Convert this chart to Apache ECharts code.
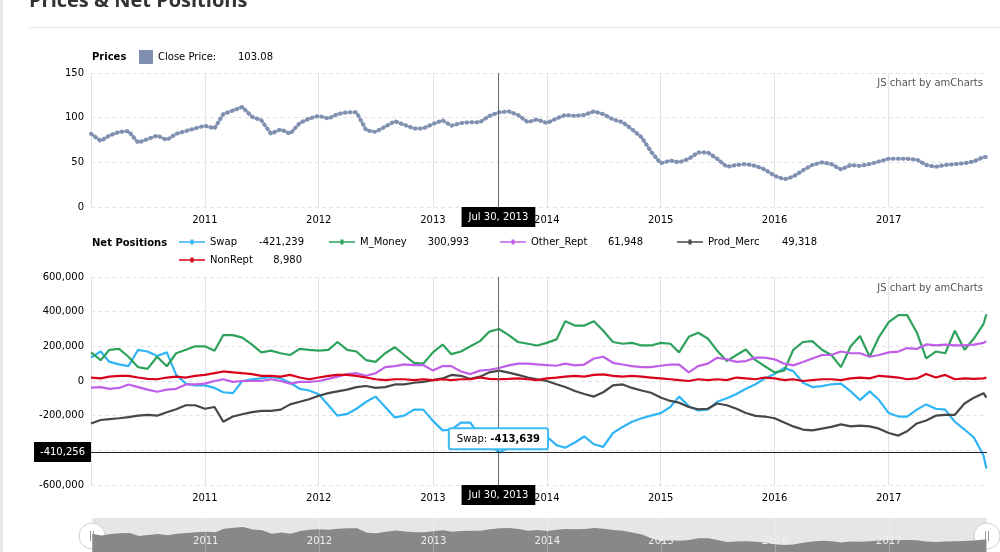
<!DOCTYPE html>
<html>
<head>
<meta charset="utf-8">
<script src="https://cdn.jsdelivr.net/npm/echarts@6/dist/echarts.min.js"></script>
<style>
html,body{margin:0;padding:0;background:#fff;}
#c{width:1000px;height:552px;}
</style>
</head>
<body>
<div id="c"></div>
<script>
// ---- Data (monthly samples, first of each month, plus last point) ----
const dates = [];
for (let y = 2010; y <= 2017; y++) {
  for (let m = 1; m <= 12; m++) {
    if (y === 2017 && m > 11) break;
    dates.push(y + '-' + String(m).padStart(2, '0') + '-01');
  }
}
dates.push('2017-11-10');

const closePrice = [
  82,74,80,84,85,72,76,80,75,82,85,88,
  91,88,104,108,112,101,97,82,87,82,94,99,
  102,99,104,106,106,86,84,90,96,92,88,88,
  93,97,91,94,95,95,102,106,107,103,95,98,
  94,99,103,102,103,107,104,98,95,87,78,62,
  49,52,50,54,61,61,54,45,47,48,46,42,
  35,31,34,41,47,50,48,42,47,46,48,51,
  54,54,54,53,47,45,47,48,49,51,56,
  56
];

const swap = [
  135000,170000,110000,96000,86000,180000,170000,144000,165000,35000,-15000,-25000,
  -25000,-40000,-65000,-70000,0,10000,15000,25000,15000,-10000,-45000,-55000,
  -77000,-140000,-200000,-190000,-160000,-120000,-90000,-150000,-210000,-200000,-165000,-165000,
  -230000,-285000,-280000,-240000,-240000,-320000,-370000,-412000,-385000,-375000,-360000,-330000,
  -320000,-370000,-385000,-355000,-320000,-365000,-380000,-300000,-265000,-235000,-215000,-200000,
  -185000,-150000,-90000,-145000,-170000,-165000,-120000,-100000,-75000,-45000,-19000,15000,
  40000,75000,57000,-10000,-35000,-30000,-19000,-15000,-60000,-110000,-60000,-110000,
  -185000,-205000,-205000,-165000,-135000,-160000,-165000,-235000,-280000,-326000,-430000,
  -505000
];

const mMoney = [
  165000,120000,180000,185000,140000,80000,70000,140000,85000,160000,180000,200000,
  200000,175000,265000,265000,250000,210000,165000,175000,160000,150000,185000,180000,
  175000,180000,225000,180000,170000,120000,110000,160000,195000,150000,105000,100000,
  165000,210000,155000,170000,200000,230000,285000,300000,265000,225000,215000,205000,
  220000,240000,345000,320000,320000,345000,290000,225000,215000,220000,205000,205000,
  220000,215000,165000,255000,278000,245000,175000,115000,150000,182000,120000,85000,
  50000,60000,180000,225000,230000,180000,150000,80000,200000,260000,140000,255000,
  340000,380000,380000,280000,130000,170000,160000,290000,180000,245000,330000,
  385000
];

const otherRept = [
  -38000,-35000,-45000,-40000,-20000,-35000,-50000,-62000,-50000,-45000,-20000,-19000,
  -15000,0,10000,-5000,0,0,0,10000,0,-15000,-5000,-5000,
  0,12000,25000,40000,45000,30000,45000,80000,86000,96000,92000,92000,
  60000,86000,86000,55000,40000,60000,65000,75000,90000,100000,100000,96000,
  92000,88000,100000,90000,95000,130000,140000,105000,95000,86000,80000,80000,
  88000,95000,95000,50000,86000,100000,134000,125000,110000,115000,135000,135000,
  125000,100000,90000,110000,130000,150000,150000,170000,160000,160000,140000,150000,
  165000,170000,190000,185000,211000,205000,210000,205000,205000,210000,220000,
  230000
];

const prodMerc = [
  -245000,-225000,-220000,-215000,-208000,-200000,-195000,-200000,-180000,-163000,-140000,-140000,
  -160000,-150000,-235000,-205000,-192000,-180000,-172000,-172000,-165000,-135000,-120000,-105000,
  -85000,-70000,-60000,-50000,-35000,-29000,-40000,-35000,-20000,-19000,-10000,-5000,
  5000,15000,35000,30000,12000,25000,50000,60000,48000,35000,20000,10000,
  0,-19000,-35000,-58000,-75000,-90000,-65000,-25000,-20000,-40000,-55000,-68000,
  -95000,-115000,-125000,-150000,-163000,-160000,-130000,-140000,-160000,-185000,-201000,-205000,
  -215000,-240000,-262000,-280000,-285000,-275000,-265000,-250000,-262000,-258000,-262000,-275000,
  -300000,-315000,-290000,-245000,-228000,-200000,-195000,-195000,-130000,-96000,-70000,
  -96000
];

const nonRept = [
  20000,15000,25000,30000,30000,20000,12000,10000,20000,25000,20000,30000,
  35000,45000,55000,50000,45000,40000,30000,30000,25000,35000,20000,10000,
  20000,30000,35000,35000,30000,20000,10000,5000,10000,10000,5000,10000,
  5000,10000,5000,10000,10000,20000,12000,10000,12000,15000,10000,5000,
  15000,20000,25000,30000,25000,35000,38000,30000,25000,30000,25000,20000,
  15000,10000,5000,0,10000,5000,10000,5000,20000,15000,10000,20000,
  15000,5000,10000,0,5000,10000,10000,5000,15000,20000,15000,30000,
  25000,20000,10000,15000,40000,20000,35000,10000,15000,12000,15000,
  20000
];

// Legend / cursor readouts shown in the reference
const cursorDate = '2013-07-30';
const cursorDateLabel = 'Jul 30, 2013';
const cursorYValue = -410256;
const tooltipSwap = -413639;
const legendValues = {
  'Close Price': '103.08',
  'Swap': '-421,239',
  'M_Money': '300,993',
  'Other_Rept': '61,948',
  'Prod_Merc': '49,318',
  'NonRept': '8,980'
};

const colors = {
  price: '#8090b0',
  Swap: '#2fb5f5',
  M_Money: '#2ea25c',
  Other_Rept: '#c05ee8',
  Prod_Merc: '#474747',
  NonRept: '#d9001b'
};

// ---- Helpers ----
function comma(n) {
  const s = Math.abs(Math.round(n)).toString().replace(/\B(?=(\d{3})+(?!\d))/g, ',');
  return (n < 0 ? '-' : '') + s;
}
const zip = arr => dates.map((d, i) => [d, arr[i]]);
const FONT = 'DejaVu Sans';
const DAY = 24 * 3600 * 1000;
const yearFmt = v => { const y = new Date(v).getFullYear(); return y <= 2010 ? '' : String(y); };

function timeAxis(gridIndex, extra) {
  return Object.assign({
    type: 'time',
    gridIndex: gridIndex,
    min: '2010-01-01',
    max: '2017-11-12',
    minInterval: 365 * DAY,
    maxInterval: 366 * DAY,
    axisLine: { show: false },
    axisTick: { show: false },
    axisLabel: {
      showMinLabel: false,
      showMaxLabel: false,
      fontFamily: FONT, fontSize: 10, color: '#000', margin: 8,
      formatter: yearFmt
    },
    splitLine: { show: true, showMinLine: false, showMaxLine: false, lineStyle: { color: '#e2e2e2', width: 1 } }
  }, extra || {});
}

const lineIcon = 'path://M0,2 L26,2 L26,3.6 L0,3.6 Z M11.5,0.3 L14.5,0.3 L14.5,5.3 L11.5,5.3 Z';

function legendFor(name, left, top, nameW, isLine) {
  return {
    data: [{ name: name, icon: isLine ? lineIcon : 'rect' }],
    left: left, top: top,
    orient: 'horizontal',
    itemWidth: isLine ? 26 : 14,
    itemHeight: isLine ? 5 : 14,
    selectedMode: false,
    padding: 0,
    formatter: n => '{n|' + (isLine ? n : n + ':') + '}{v|' + legendValues[n] + '}',
    textStyle: {
      fontFamily: FONT, fontSize: 10, color: '#000',
      rich: {
        n: { width: nameW, fontFamily: FONT, fontSize: 10, color: '#000' },
        v: { width: isLine ? 60 : 40, align: isLine ? 'right' : 'left', fontFamily: FONT, fontSize: 10, color: '#000' }
      }
    }
  };
}

function netLine(name, arr) {
  return {
    name: name, type: 'line', xAxisIndex: 1, yAxisIndex: 1,
    data: zip(arr),
    showSymbol: false, symbol: 'circle', symbolSize: 4,
    lineStyle: { width: 2.2, color: colors[name] },
    itemStyle: { color: colors[name] },
    emphasis: { disabled: true },
    z: 3
  };
}

const cursorLabel = {
  show: true, position: 'start', distance: 0,
  backgroundColor: '#000', color: '#fff', padding: [5, 7, 5, 7],
  fontFamily: FONT, fontSize: 10
};

const chart = echarts.init(document.getElementById('c'), null, { renderer: 'canvas' });

const swapSeries = netLine('Swap', swap);
swapSeries.markLine = {
  silent: true, symbol: ['none', 'none'], animation: false,
  data: [
    { xAxis: cursorDate, lineStyle: { color: '#666', width: 1, type: 'solid' },
      label: Object.assign({}, cursorLabel, { formatter: cursorDateLabel }) },
    { yAxis: cursorYValue, lineStyle: { color: '#222', width: 1, type: 'solid' },
      label: Object.assign({}, cursorLabel, { formatter: comma(cursorYValue), padding: [5, 6, 5, 6] }) }
  ]
};
swapSeries.markPoint = {
  silent: true, animation: false,
  symbol: 'circle', symbolSize: 1,
  itemStyle: { color: 'rgba(0,0,0,0)' },
  data: [{ coord: [cursorDate, tooltipSwap] }],
  label: {
    show: true, position: 'top', distance: 4,
    formatter: '{a|Swap: }{b|' + comma(tooltipSwap) + '}',
    backgroundColor: '#fff', borderColor: '#3cb9f0', borderWidth: 2, borderRadius: 1,
    padding: [5, 7, 4, 7],
    rich: {
      a: { fontFamily: FONT, fontSize: 10, color: '#000' },
      b: { fontFamily: FONT, fontSize: 10, color: '#000', fontWeight: 'bold' }
    }
  }
};

function handle(cx) {
  return {
    type: 'group', x: cx, y: 536, silent: true, z: 100,
    children: [
      { type: 'circle', shape: { cx: 0, cy: 0, r: 13 }, style: { fill: '#fff', stroke: '#d0d0d0', lineWidth: 1 } },
      { type: 'line', shape: { x1: -1.5, y1: -5, x2: -1.5, y2: 5 }, style: { stroke: '#999', lineWidth: 1 } },
      { type: 'line', shape: { x1: 1.5, y1: -5, x2: 1.5, y2: 5 }, style: { stroke: '#999', lineWidth: 1 } }
    ]
  };
}

const option = {
  backgroundColor: '#fff',
  animation: false,
  grid: [
    { left: 91, right: 13, top: 73, height: 134 },
    { left: 91, right: 13, top: 277, height: 208 },
    { left: 92, right: 13, top: 518, height: 38, show: true, backgroundColor: '#e6e6e6', borderWidth: 0 }
  ],
  xAxis: [
    timeAxis(0),
    timeAxis(1),
    timeAxis(2, {
      z: 10,
      axisLabel: {
        inside: true, showMinLabel: false, showMaxLabel: false,
        fontFamily: FONT, fontSize: 10, color: '#eeeeee', margin: 6,
        formatter: yearFmt
      },
      splitLine: { show: true, showMinLine: false, showMaxLine: false, lineStyle: { color: 'rgba(255,255,255,0.25)' } }
    })
  ],
  yAxis: [
    {
      type: 'value', gridIndex: 0, min: 0, max: 150, interval: 50,
      axisLine: { show: false }, axisTick: { show: false },
      axisLabel: { fontFamily: FONT, fontSize: 10, color: '#000', margin: 7 },
      splitLine: { lineStyle: { color: '#e4e4e4', type: [4, 3] } }
    },
    {
      type: 'value', gridIndex: 1, min: -600000, max: 600000, interval: 200000,
      axisLine: { show: false }, axisTick: { show: false },
      axisLabel: { fontFamily: FONT, fontSize: 10, color: '#000', margin: 7, formatter: v => comma(v) },
      splitLine: { lineStyle: { color: '#e4e4e4', type: [4, 3] } }
    },
    { type: 'value', gridIndex: 2, min: 0, max: 152, show: false }
  ],
  legend: [
    legendFor('Close Price', 139, 50, 80, false),
    legendFor('Swap', 179, 237, 34, true),
    legendFor('M_Money', 329, 237, 49, true),
    legendFor('Other_Rept', 500, 237, 52, true),
    legendFor('Prod_Merc', 677, 237, 49, true),
    legendFor('NonRept', 179, 255, 32, true)
  ],
  series: [
    {
      name: 'Close Price', type: 'line', xAxisIndex: 0, yAxisIndex: 0,
      data: zip(closePrice),
      showSymbol: false,
      lineStyle: { color: colors.price, width: 4, type: [1, 4], cap: 'round' },
      itemStyle: { color: colors.price },
      emphasis: { disabled: true },
      markLine: {
        silent: true, symbol: ['none', 'none'], animation: false,
        data: [{ xAxis: cursorDate, lineStyle: { color: '#666', width: 1, type: 'solid' },
          label: Object.assign({}, cursorLabel, { formatter: cursorDateLabel }) }]
      }
    },
    swapSeries,
    netLine('M_Money', mMoney),
    netLine('Other_Rept', otherRept),
    netLine('Prod_Merc', prodMerc),
    netLine('NonRept', nonRept),
    {
      name: 'scroll', type: 'line', xAxisIndex: 2, yAxisIndex: 2,
      data: zip(closePrice), showSymbol: false,
      lineStyle: { width: 0 },
      areaStyle: { color: '#888888', opacity: 1 },
      emphasis: { disabled: true }, silent: true, z: 1
    }
  ],
  graphic: [
    { type: 'rect', left: 0, top: 0, shape: { width: 3, height: 552 }, style: { fill: '#e8e8e8' }, silent: true },
    { type: 'text', x: 29, y: 11, style: { text: 'Prices & Net Positions', font: 'bold 20px "Open Sans"', fill: '#333', verticalAlign: 'bottom' }, silent: true },
    { type: 'line', shape: { x1: 29, y1: 27.5, x2: 1000, y2: 27.5 }, style: { stroke: '#e8e8e8', lineWidth: 1 }, silent: true },
    { type: 'text', x: 92, y: 57, style: { text: 'Prices', font: 'bold 10px "DejaVu Sans"', fill: '#000', verticalAlign: 'middle' }, silent: true },
    { type: 'text', x: 92, y: 243, style: { text: 'Net Positions', font: 'bold 10px "DejaVu Sans"', fill: '#000', verticalAlign: 'middle' }, silent: true },
    { type: 'text', x: 983, y: 83, style: { text: 'JS chart by amCharts', font: '10px "DejaVu Sans"', fill: '#555', align: 'right', verticalAlign: 'middle' }, silent: true },
    { type: 'text', x: 983, y: 288, style: { text: 'JS chart by amCharts', font: '10px "DejaVu Sans"', fill: '#555', align: 'right', verticalAlign: 'middle' }, silent: true },
    handle(92),
    handle(987)
  ]
};

chart.setOption(option);
</script>
</body>
</html>
